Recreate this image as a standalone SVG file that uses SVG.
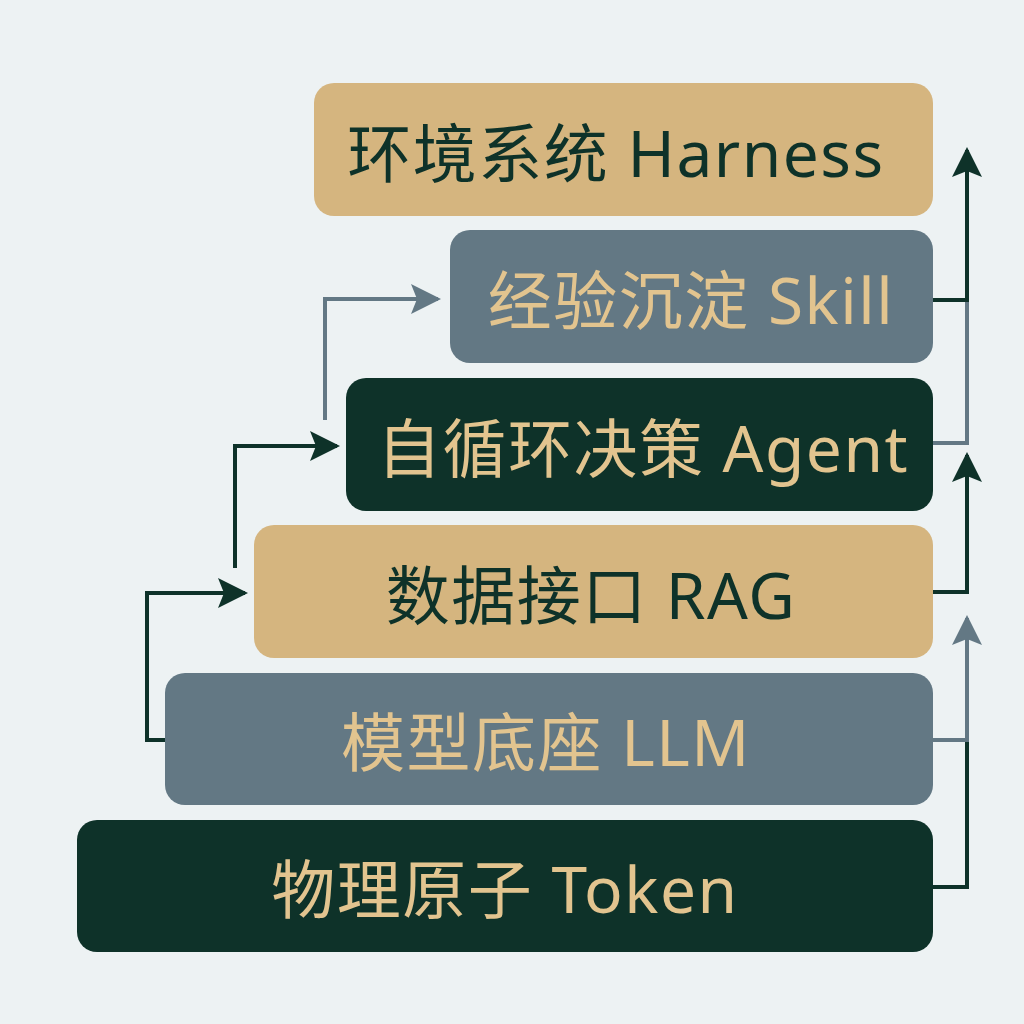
<svg xmlns="http://www.w3.org/2000/svg" width="1024" height="1024" viewBox="0 0 1024 1024">
<defs>
<style>
.bg{fill:#EDF2F3}
.tan{fill:#D5B57F}
.slate{fill:#637884}
.dark{fill:#0E3229}
.t{font-family:"Noto Sans","Noto Sans CJK SC",sans-serif;font-size:64px;letter-spacing:1.5px;text-anchor:middle;dominant-baseline:central}
.td{fill:#0E3229}
.tl{fill:#E2C48F}
.ld{fill:none;stroke:#0E3229;stroke-width:4}
.lg{fill:none;stroke:#637884;stroke-width:4}
</style>
<marker id="ad" viewBox="0 0 10 10" refX="9" refY="5" markerWidth="7.5" markerHeight="7.5" markerUnits="strokeWidth" orient="auto"><path d="M0,0 L10,5 L0,10 L2,5 Z" fill="#0E3229"/></marker>
<marker id="ag" viewBox="0 0 10 10" refX="9" refY="5" markerWidth="7.5" markerHeight="7.5" markerUnits="strokeWidth" orient="auto"><path d="M0,0 L10,5 L0,10 L2,5 Z" fill="#637884"/></marker>
</defs>
<rect class="bg" width="1024" height="1024"/>
<g id="connectors">
<path class="ld" d="M933,887 H967 V740"/>
<path class="lg" d="M933,740 H967 V618" marker-end="url(#ag)"/>
<path class="ld" d="M933,592 H967 V455" marker-end="url(#ad)"/>
<path class="lg" d="M933,443 H967 V300"/>
<path class="ld" d="M933,300 H967 V150" marker-end="url(#ad)"/>
<path class="ld" d="M165,740 H147 V593 H245" marker-end="url(#ad)"/>
<path class="ld" d="M235,568 V446 H337" marker-end="url(#ad)"/>
<path class="lg" d="M325,420 V299 H438" marker-end="url(#ag)"/>
</g>
<g id="harness"><rect class="tan" x="314" y="83" width="619" height="133" rx="20"/><text class="t td" x="616" y="152">环境系统 Harness</text></g>
<g id="skill"><rect class="slate" x="450" y="230" width="483" height="133" rx="20"/><text class="t tl" x="691" y="299">经验沉淀 Skill</text></g>
<g id="agent"><rect class="dark" x="346" y="378" width="587" height="133" rx="20"/><text class="t tl" x="643" y="447">自循环决策 Agent</text></g>
<g id="rag"><rect class="tan" x="254" y="525" width="679" height="133" rx="20"/><text class="t td" x="591" y="594">数据接口 RAG</text></g>
<g id="llm"><rect class="slate" x="165" y="673" width="768" height="132" rx="20"/><text class="t tl" x="546" y="741">模型底座 LLM</text></g>
<g id="token"><rect class="dark" x="77" y="820" width="856" height="132" rx="20"/><text class="t tl" x="505" y="888">物理原子 Token</text></g>
</svg>
